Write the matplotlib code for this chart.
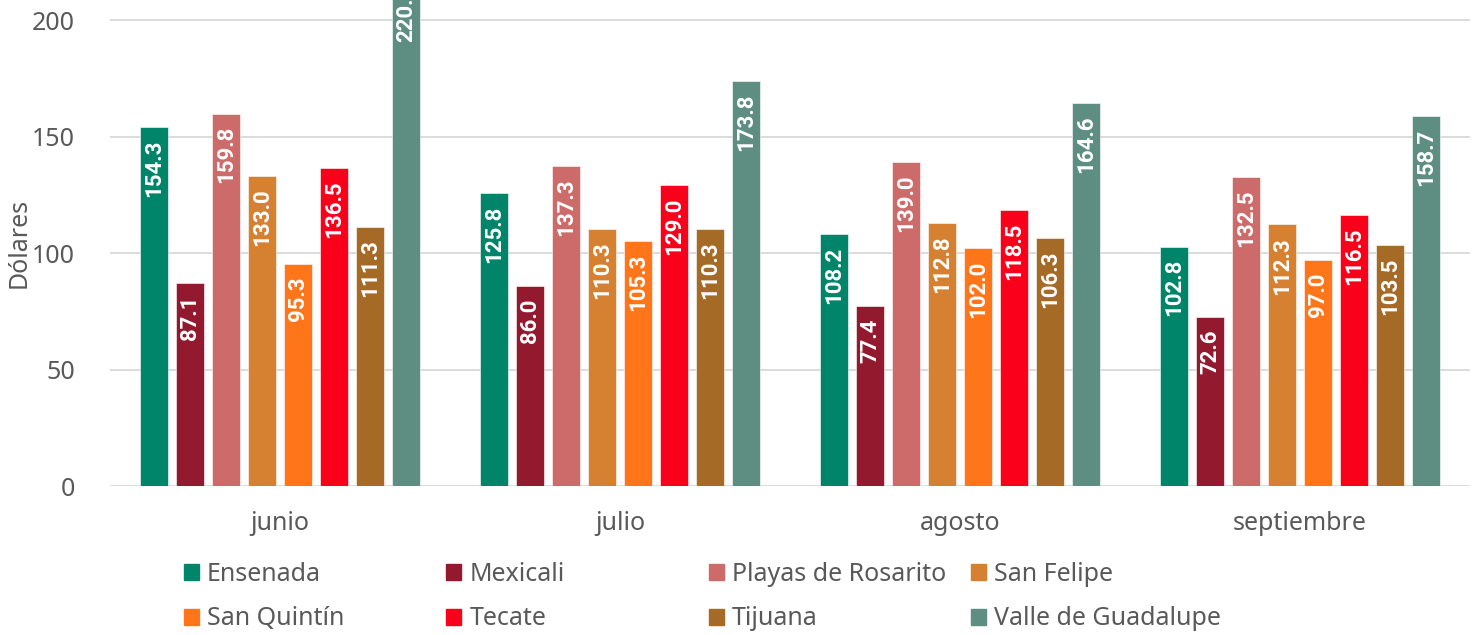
import numpy as np
import matplotlib.pyplot as plt
from matplotlib.patches import Patch

# Datos: gasto promedio por mes y destino (dólares)
meses = ['junio', 'julio', 'agosto', 'septiembre']
destinos = ['Ensenada', 'Mexicali', 'Playas de Rosarito', 'San Felipe',
            'San Quintín', 'Tecate', 'Tijuana', 'Valle de Guadalupe']
ensenada = [154.3, 125.8, 108.2, 102.8]
mexicali = [87.1, 86.0, 77.4, 72.6]
rosarito = [159.8, 137.3, 139.0, 132.5]
san_felipe = [133.0, 110.3, 112.8, 112.3]
san_quintin = [95.3, 105.3, 102.0, 97.0]
tecate = [136.5, 129.0, 118.5, 116.5]
tijuana = [111.3, 110.3, 106.3, 103.5]
valle = [220.4, 173.8, 164.6, 158.7]
series = [ensenada, mexicali, rosarito, san_felipe, san_quintin, tecate, tijuana, valle]

colores = ['#00856A', '#931A2E', '#CC6B69', '#D68131',
           '#FF7519', '#F9001B', '#A66A27', '#5E8E81']

plt.rcParams['font.family'] = ['Noto Sans', 'DejaVu Sans']
gris = '#595959'

fig = plt.figure(figsize=(14.78, 6.35), dpi=100)
ax = fig.add_axes([0.0744, 0.2346, 0.9202, 0.7654])

x = np.arange(len(meses))
paso = 0.106
ancho = 0.084
for i, (vals, col) in enumerate(zip(series, colores)):
    pos = x + (i - 3.5) * paso
    barras = ax.bar(pos, vals, width=ancho, color=col, edgecolor='white',
                    linewidth=0.4, zorder=3)
    for b, v in zip(barras, vals):
        ax.annotate(f'{v:.1f}', (b.get_x() + b.get_width() / 2, v),
                    xytext=(0, -9), textcoords='offset points',
                    rotation=90, ha='center', va='top', color='white',
                    fontsize=16, fontweight='bold',
                    family=['Roboto', 'DejaVu Sans'],
                    annotation_clip=False, zorder=4)

ax.set_xlim(-0.5, 3.5)
ax.set_ylim(0, 208.6)
ax.set_yticks([0, 50, 100, 150, 200])
ax.set_xticks(x)
ax.set_xticklabels(meses)
ax.tick_params(axis='both', length=0, labelsize=18, labelcolor=gris)
ax.tick_params(axis='y', pad=25)
ax.tick_params(axis='x', pad=18)
ax.set_ylabel('Dólares', fontsize=18, color=gris)
ax.yaxis.set_label_coords(-0.0574, 0.5)
ax.grid(axis='y', color='#d9d9d9', linewidth=1.3, zorder=0)
for s in ax.spines.values():
    s.set_visible(False)

# leyenda en 4 columnas de igual ancho
handles = [Patch(color=c) for c in colores]
for j in range(4):
    leg = fig.legend([handles[j], handles[j + 4]], [destinos[j], destinos[j + 4]],
                     loc='upper left', bbox_to_anchor=(0.1245 + j * 0.1775, 0.115),
                     frameon=False, fontsize=18, labelcolor=gris,
                     handlelength=0.6, handleheight=0.6, handletextpad=0.32,
                     labelspacing=0.78, borderpad=0, borderaxespad=0)

fig.savefig('out.png', dpi=100)
